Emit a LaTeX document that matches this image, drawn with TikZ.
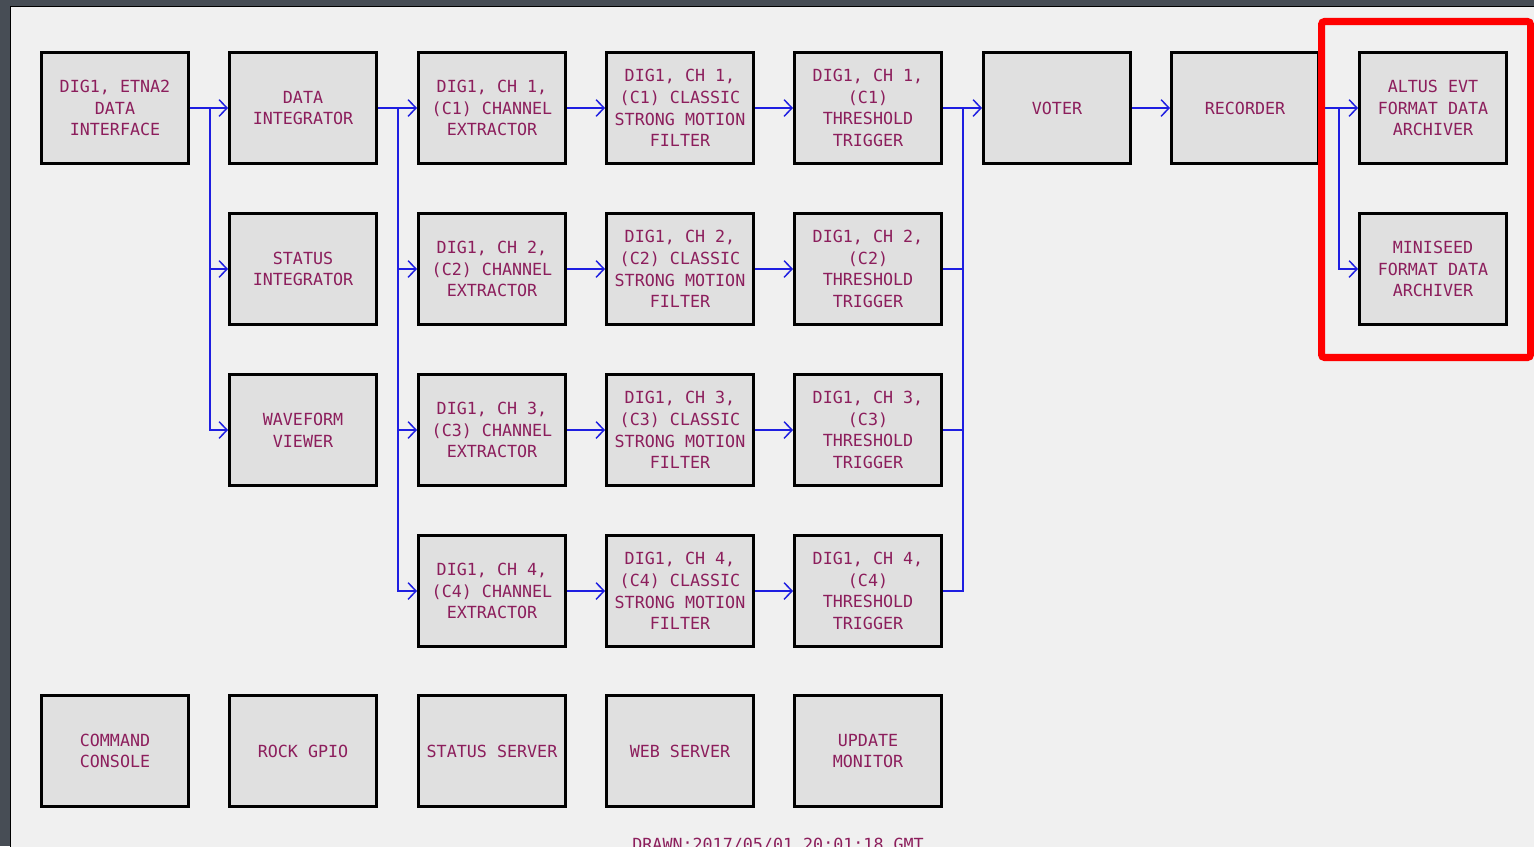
\documentclass[tikz,border=0pt]{standalone}
\usepackage{fontspec}
\setmonofont{DejaVu Sans Mono}
\usetikzlibrary{arrows.meta}
\definecolor{framedark}{RGB}{71,77,85}
\definecolor{paper}{RGB}{240,240,240}
\definecolor{boxgray}{RGB}{224,224,224}
\definecolor{labelred}{RGB}{140,30,92}
\definecolor{wireblue}{RGB}{30,30,225}
\definecolor{markred}{RGB}{255,0,0}
\begin{document}
\begin{tikzpicture}[
    x=0.02cm, y=-0.02cm,
    font=\ttfamily\fontsize{9.5}{12.4}\selectfont,
    block/.style={draw=black, line width=1.7pt, fill=boxgray, text=labelred,
      minimum width=2.94cm, minimum height=2.22cm, align=center, inner sep=0pt},
    link/.style={draw=wireblue, line width=0.85pt},
    wire/.style={link, -{Straight Barb[length=4.5pt,width=9.5pt]}},
  ]
  \useasboundingbox (0,0) rectangle (1534,846);
  \clip (0,0) rectangle (1534,846);

  % ---- window frame ----
  \fill[framedark] (0,0) rectangle (1534,846);
  \filldraw[fill=paper, draw=black, line width=0.6pt] (10.5,6.5) rectangle (1540,850);

  % ---- top row ----
  \node[block] (iface) at (115,108) {DIG1, ETNA2\\DATA\\INTERFACE};
  \node[block] (dint) at (303,108) {DATA\\INTEGRATOR};
  \node[block] (sint) at (303,269) {STATUS\\INTEGRATOR};
  \node[block] (wave) at (303,430) {WAVEFORM\\VIEWER};
  \node[block] (voter) at (1057,108) {VOTER};
  \node[block] (rec) at (1245,108) {RECORDER};
  \node[block] (evt) at (1433,108) {ALTUS EVT\\FORMAT DATA\\ARCHIVER};
  \node[block] (mseed) at (1433,269) {MINISEED\\FORMAT DATA\\ARCHIVER};

  % ---- channel rows ----
  \foreach \k/\y in {1/108, 2/269, 3/430, 4/591} {
    \node[block] (ext\k) at (492,\y) {DIG1, CH \k,\\(C\k) CHANNEL\\EXTRACTOR};
    \node[block] (flt\k) at (680,\y) {DIG1, CH \k,\\(C\k) CLASSIC\\STRONG MOTION\\FILTER};
    \node[block] (trg\k) at (868,\y) {DIG1, CH \k,\\(C\k)\\THRESHOLD\\TRIGGER};
  }

  % ---- services ----
  \node[block] (cmd) at (115,751) {COMMAND\\CONSOLE};
  \node[block] (gpio) at (303,751) {ROCK GPIO};
  \node[block] (stsrv) at (492,751) {STATUS SERVER};
  \node[block] (web) at (680,751) {WEB SERVER};
  \node[block] (upd) at (868,751) {UPDATE\\MONITOR};

  % ---- connectors ----
  \coordinate (splitA) at (210,108);
  \coordinate (splitB) at (398,108);
  \coordinate (joinV) at (963,108);
  \coordinate (splitR) at (1339,108);

  \draw[wire] (iface.east) -- (dint.west);
  \draw[wire] (iface.east) -- (splitA) |- (sint.west);
  \draw[wire] (iface.east) -- (splitA) |- (wave.west);

  \draw[wire] (dint.east) -- (ext1.west);
  \foreach \k in {2,3,4}
    \draw[wire] (dint.east) -- (splitB) |- (ext\k.west);

  \foreach \k in {1,2,3,4} {
    \draw[wire] (ext\k.east) -- (flt\k.west);
    \draw[wire] (flt\k.east) -- (trg\k.west);
  }

  \draw[wire] (trg1.east) -- (voter.west);
  \draw[link] (trg4.east) -| (joinV);
  \foreach \k in {2,3}
    \draw[link] (trg\k.east) -- (joinV |- trg\k.east);

  \draw[wire] (voter.east) -- (rec.west);
  \draw[wire] (rec.east) -- (evt.west);
  \draw[wire] (rec.east) -- (splitR) |- (mseed.west);

  % ---- highlight ----
  \draw[markred, line width=4pt, rounded corners=0.06cm] (1321.5,21.5) rectangle (1530.5,357.5);

  % ---- footer ----
  \node[anchor=base west, text=labelred, inner sep=0pt] (stamp) at (632,850)
    {DRAWN:2017/05/01 20:01:18 GMT};
\end{tikzpicture}
\end{document}
